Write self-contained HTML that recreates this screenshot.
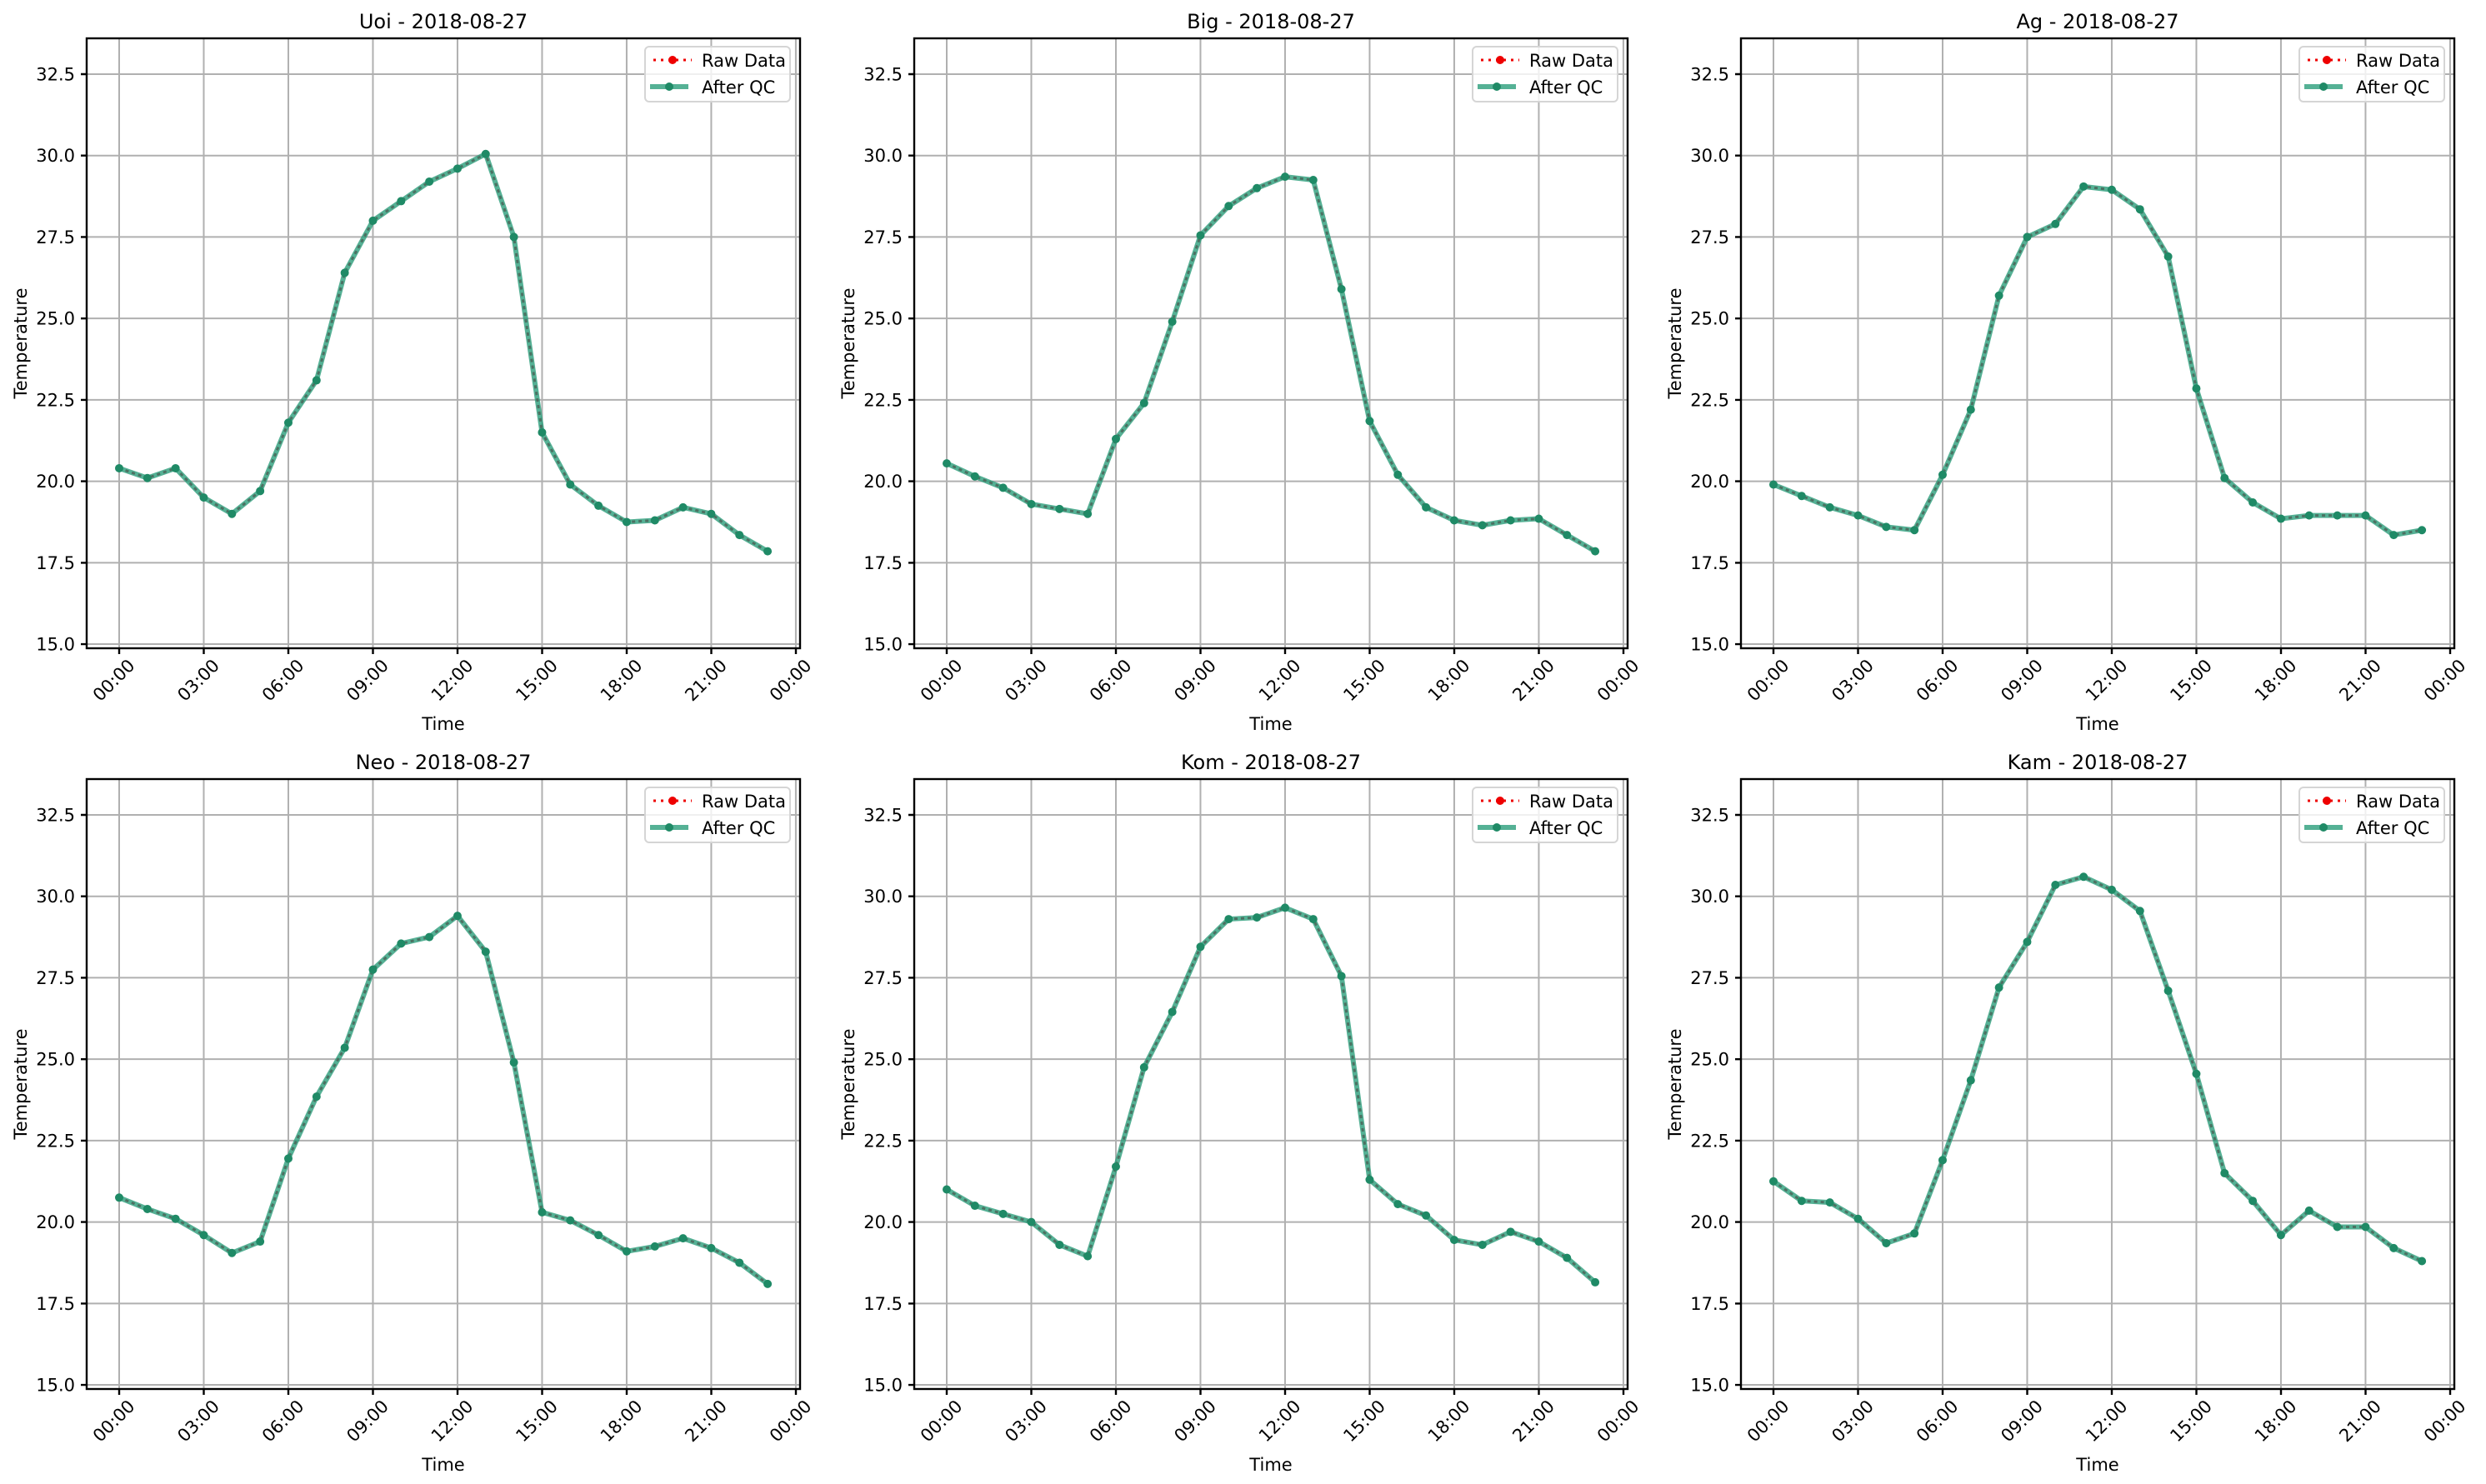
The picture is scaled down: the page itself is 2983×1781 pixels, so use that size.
<!DOCTYPE html>
<html><head><meta charset="utf-8"><style>
html,body{margin:0;padding:0;background:#fff}
svg{display:block}
text{font-family:"DejaVu Sans","Liberation Sans",sans-serif;fill:#000}
.g{fill:none;stroke:#b0b0b0;stroke-width:2}
.ax{fill:none;stroke:#000;stroke-width:2.4}
.qc{fill:none;stroke:#2a9d7a;stroke-opacity:0.8;stroke-width:6;stroke-linejoin:round}
.raw{fill:none;stroke:#4a6a5c;stroke-opacity:0.9;stroke-width:3;stroke-dasharray:4 4}
.mk{fill:none;stroke:#1f8a66;stroke-width:10;stroke-linecap:round}
.yt{font-size:21px;text-anchor:end}
.xt{font-size:21px;text-anchor:end}
.tl{font-size:24px;text-anchor:middle}
.al{font-size:21px;text-anchor:middle}
.lg{font-size:21px}
</style></head><body>
<svg width="2983" height="1781" viewBox="0 0 2983 1781" xmlns="http://www.w3.org/2000/svg">
<defs><clipPath id="c"><rect x="0" y="0" width="856" height="732"/></clipPath></defs>

<!-- PANEL 1 -->
<g transform="translate(104,46)">
<g clip-path="url(#c)">
<g transform="translate(39,1313.4) scale(33.83,-39.09)">
<path class="g" vector-effect="non-scaling-stroke" d="M0 14V34M3 14V34M6 14V34M9 14V34M12 14V34M15 14V34M18 14V34M21 14V34M24 14V34M-2 15H26M-2 17.5H26M-2 20H26M-2 22.5H26M-2 25H26M-2 27.5H26M-2 30H26M-2 32.5H26"/>
<polyline class="qc" vector-effect="non-scaling-stroke" points="0,20.4 1,20.1 2,20.4 3,19.5 4,19.0 5,19.7 6,21.8 7,23.1 8,26.4 9,28.0 10,28.6 11,29.2 12,29.6 13,30.05 14,27.5 15,21.5 16,19.9 17,19.25 18,18.75 19,18.8 20,19.2 21,19.0 22,18.35 23,17.85"/>
<polyline class="raw" vector-effect="non-scaling-stroke" points="0,20.4 1,20.1 2,20.4 3,19.5 4,19.0 5,19.7 6,21.8 7,23.1 8,26.4 9,28.0 10,28.6 11,29.2 12,29.6 13,30.05 14,27.5 15,21.5 16,19.9 17,19.25 18,18.75 19,18.8 20,19.2 21,19.0 22,18.35 23,17.85"/>
<path class="mk" vector-effect="non-scaling-stroke" d="M0 20.4h0M1 20.1h0M2 20.4h0M3 19.5h0M4 19.0h0M5 19.7h0M6 21.8h0M7 23.1h0M8 26.4h0M9 28.0h0M10 28.6h0M11 29.2h0M12 29.6h0M13 30.05h0M14 27.5h0M15 21.5h0M16 19.9h0M17 19.25h0M18 18.75h0M19 18.8h0M20 19.2h0M21 19.0h0M22 18.35h0M23 17.85h0"/>
</g></g>
<rect class="ax" x="0" y="0" width="856" height="732"/>
<path class="ax" d="M-7 727.1H0M-7 629.4H0M-7 531.6H0M-7 433.9H0M-7 336.2H0M-7 238.4H0M-7 140.7H0M-7 43H0M39 732v7M140.5 732v7M242 732v7M343.5 732v7M445 732v7M546.5 732v7M648 732v7M749.5 732v7M851 732v7"/>
<text class="yt" x="-14" y="734.6">15.0</text><text class="yt" x="-14" y="636.9">17.5</text><text class="yt" x="-14" y="539.1">20.0</text><text class="yt" x="-14" y="441.4">22.5</text><text class="yt" x="-14" y="343.7">25.0</text><text class="yt" x="-14" y="245.9">27.5</text><text class="yt" x="-14" y="148.2">30.0</text><text class="yt" x="-14" y="50.5">32.5</text>
<text class="xt" transform="translate(59,754) rotate(-45)">00:00</text><text class="xt" transform="translate(160.5,754) rotate(-45)">03:00</text><text class="xt" transform="translate(262,754) rotate(-45)">06:00</text><text class="xt" transform="translate(363.5,754) rotate(-45)">09:00</text><text class="xt" transform="translate(465,754) rotate(-45)">12:00</text><text class="xt" transform="translate(566.5,754) rotate(-45)">15:00</text><text class="xt" transform="translate(668,754) rotate(-45)">18:00</text><text class="xt" transform="translate(769.5,754) rotate(-45)">21:00</text><text class="xt" transform="translate(871,754) rotate(-45)">00:00</text>
<text class="al" x="428" y="830">Time</text>
<text class="al" transform="translate(-72,366) rotate(-90)">Temperature</text>
<text class="tl" x="428" y="-12">Uoi - 2018-08-27</text>
<rect x="670" y="10" width="174" height="66" rx="5" fill="#fff" fill-opacity="0.8" stroke="#d5d5d5" stroke-width="2"/>
<path d="M680 26H726" stroke="#e00" stroke-width="3" stroke-dasharray="3 6"/><circle cx="703" cy="26" r="5" fill="#e00"/>
<path d="M676 58H722" stroke="#2a9d7a" stroke-opacity="0.8" stroke-width="6"/><circle cx="699" cy="58" r="5" fill="#1f8a66"/>
<text class="lg" x="738" y="34">Raw Data</text><text class="lg" x="738" y="66">After QC</text>
</g>

<!-- PANEL 2 -->
<g transform="translate(1097,46)">
<g clip-path="url(#c)">
<g transform="translate(39,1313.4) scale(33.83,-39.09)">
<path class="g" vector-effect="non-scaling-stroke" d="M0 14V34M3 14V34M6 14V34M9 14V34M12 14V34M15 14V34M18 14V34M21 14V34M24 14V34M-2 15H26M-2 17.5H26M-2 20H26M-2 22.5H26M-2 25H26M-2 27.5H26M-2 30H26M-2 32.5H26"/>
<polyline class="qc" vector-effect="non-scaling-stroke" points="0,20.55 1,20.15 2,19.8 3,19.3 4,19.15 5,19.0 6,21.3 7,22.4 8,24.9 9,27.55 10,28.45 11,29.0 12,29.35 13,29.25 14,25.9 15,21.85 16,20.2 17,19.2 18,18.8 19,18.65 20,18.8 21,18.85 22,18.35 23,17.85"/>
<polyline class="raw" vector-effect="non-scaling-stroke" points="0,20.55 1,20.15 2,19.8 3,19.3 4,19.15 5,19.0 6,21.3 7,22.4 8,24.9 9,27.55 10,28.45 11,29.0 12,29.35 13,29.25 14,25.9 15,21.85 16,20.2 17,19.2 18,18.8 19,18.65 20,18.8 21,18.85 22,18.35 23,17.85"/>
<path class="mk" vector-effect="non-scaling-stroke" d="M0 20.55h0M1 20.15h0M2 19.8h0M3 19.3h0M4 19.15h0M5 19.0h0M6 21.3h0M7 22.4h0M8 24.9h0M9 27.55h0M10 28.45h0M11 29.0h0M12 29.35h0M13 29.25h0M14 25.9h0M15 21.85h0M16 20.2h0M17 19.2h0M18 18.8h0M19 18.65h0M20 18.8h0M21 18.85h0M22 18.35h0M23 17.85h0"/>
</g></g>
<rect class="ax" x="0" y="0" width="856" height="732"/>
<path class="ax" d="M-7 727.1H0M-7 629.4H0M-7 531.6H0M-7 433.9H0M-7 336.2H0M-7 238.4H0M-7 140.7H0M-7 43H0M39 732v7M140.5 732v7M242 732v7M343.5 732v7M445 732v7M546.5 732v7M648 732v7M749.5 732v7M851 732v7"/>
<text class="yt" x="-14" y="734.6">15.0</text><text class="yt" x="-14" y="636.9">17.5</text><text class="yt" x="-14" y="539.1">20.0</text><text class="yt" x="-14" y="441.4">22.5</text><text class="yt" x="-14" y="343.7">25.0</text><text class="yt" x="-14" y="245.9">27.5</text><text class="yt" x="-14" y="148.2">30.0</text><text class="yt" x="-14" y="50.5">32.5</text>
<text class="xt" transform="translate(59,754) rotate(-45)">00:00</text><text class="xt" transform="translate(160.5,754) rotate(-45)">03:00</text><text class="xt" transform="translate(262,754) rotate(-45)">06:00</text><text class="xt" transform="translate(363.5,754) rotate(-45)">09:00</text><text class="xt" transform="translate(465,754) rotate(-45)">12:00</text><text class="xt" transform="translate(566.5,754) rotate(-45)">15:00</text><text class="xt" transform="translate(668,754) rotate(-45)">18:00</text><text class="xt" transform="translate(769.5,754) rotate(-45)">21:00</text><text class="xt" transform="translate(871,754) rotate(-45)">00:00</text>
<text class="al" x="428" y="830">Time</text>
<text class="al" transform="translate(-72,366) rotate(-90)">Temperature</text>
<text class="tl" x="428" y="-12">Big - 2018-08-27</text>
<rect x="670" y="10" width="174" height="66" rx="5" fill="#fff" fill-opacity="0.8" stroke="#d5d5d5" stroke-width="2"/>
<path d="M680 26H726" stroke="#e00" stroke-width="3" stroke-dasharray="3 6"/><circle cx="703" cy="26" r="5" fill="#e00"/>
<path d="M676 58H722" stroke="#2a9d7a" stroke-opacity="0.8" stroke-width="6"/><circle cx="699" cy="58" r="5" fill="#1f8a66"/>
<text class="lg" x="738" y="34">Raw Data</text><text class="lg" x="738" y="66">After QC</text>
</g>

<!-- PANEL 3 -->
<g transform="translate(2089,46)">
<g clip-path="url(#c)">
<g transform="translate(39,1313.4) scale(33.83,-39.09)">
<path class="g" vector-effect="non-scaling-stroke" d="M0 14V34M3 14V34M6 14V34M9 14V34M12 14V34M15 14V34M18 14V34M21 14V34M24 14V34M-2 15H26M-2 17.5H26M-2 20H26M-2 22.5H26M-2 25H26M-2 27.5H26M-2 30H26M-2 32.5H26"/>
<polyline class="qc" vector-effect="non-scaling-stroke" points="0,19.9 1,19.55 2,19.2 3,18.95 4,18.6 5,18.5 6,20.2 7,22.2 8,25.7 9,27.5 10,27.9 11,29.05 12,28.95 13,28.35 14,26.9 15,22.85 16,20.1 17,19.35 18,18.85 19,18.95 20,18.95 21,18.95 22,18.35 23,18.5"/>
<polyline class="raw" vector-effect="non-scaling-stroke" points="0,19.9 1,19.55 2,19.2 3,18.95 4,18.6 5,18.5 6,20.2 7,22.2 8,25.7 9,27.5 10,27.9 11,29.05 12,28.95 13,28.35 14,26.9 15,22.85 16,20.1 17,19.35 18,18.85 19,18.95 20,18.95 21,18.95 22,18.35 23,18.5"/>
<path class="mk" vector-effect="non-scaling-stroke" d="M0 19.9h0M1 19.55h0M2 19.2h0M3 18.95h0M4 18.6h0M5 18.5h0M6 20.2h0M7 22.2h0M8 25.7h0M9 27.5h0M10 27.9h0M11 29.05h0M12 28.95h0M13 28.35h0M14 26.9h0M15 22.85h0M16 20.1h0M17 19.35h0M18 18.85h0M19 18.95h0M20 18.95h0M21 18.95h0M22 18.35h0M23 18.5h0"/>
</g></g>
<rect class="ax" x="0" y="0" width="856" height="732"/>
<path class="ax" d="M-7 727.1H0M-7 629.4H0M-7 531.6H0M-7 433.9H0M-7 336.2H0M-7 238.4H0M-7 140.7H0M-7 43H0M39 732v7M140.5 732v7M242 732v7M343.5 732v7M445 732v7M546.5 732v7M648 732v7M749.5 732v7M851 732v7"/>
<text class="yt" x="-14" y="734.6">15.0</text><text class="yt" x="-14" y="636.9">17.5</text><text class="yt" x="-14" y="539.1">20.0</text><text class="yt" x="-14" y="441.4">22.5</text><text class="yt" x="-14" y="343.7">25.0</text><text class="yt" x="-14" y="245.9">27.5</text><text class="yt" x="-14" y="148.2">30.0</text><text class="yt" x="-14" y="50.5">32.5</text>
<text class="xt" transform="translate(59,754) rotate(-45)">00:00</text><text class="xt" transform="translate(160.5,754) rotate(-45)">03:00</text><text class="xt" transform="translate(262,754) rotate(-45)">06:00</text><text class="xt" transform="translate(363.5,754) rotate(-45)">09:00</text><text class="xt" transform="translate(465,754) rotate(-45)">12:00</text><text class="xt" transform="translate(566.5,754) rotate(-45)">15:00</text><text class="xt" transform="translate(668,754) rotate(-45)">18:00</text><text class="xt" transform="translate(769.5,754) rotate(-45)">21:00</text><text class="xt" transform="translate(871,754) rotate(-45)">00:00</text>
<text class="al" x="428" y="830">Time</text>
<text class="al" transform="translate(-72,366) rotate(-90)">Temperature</text>
<text class="tl" x="428" y="-12">Ag - 2018-08-27</text>
<rect x="670" y="10" width="174" height="66" rx="5" fill="#fff" fill-opacity="0.8" stroke="#d5d5d5" stroke-width="2"/>
<path d="M680 26H726" stroke="#e00" stroke-width="3" stroke-dasharray="3 6"/><circle cx="703" cy="26" r="5" fill="#e00"/>
<path d="M676 58H722" stroke="#2a9d7a" stroke-opacity="0.8" stroke-width="6"/><circle cx="699" cy="58" r="5" fill="#1f8a66"/>
<text class="lg" x="738" y="34">Raw Data</text><text class="lg" x="738" y="66">After QC</text>
</g>

<!-- PANEL 4 -->
<g transform="translate(104,935)">
<g clip-path="url(#c)">
<g transform="translate(39,1313.4) scale(33.83,-39.09)">
<path class="g" vector-effect="non-scaling-stroke" d="M0 14V34M3 14V34M6 14V34M9 14V34M12 14V34M15 14V34M18 14V34M21 14V34M24 14V34M-2 15H26M-2 17.5H26M-2 20H26M-2 22.5H26M-2 25H26M-2 27.5H26M-2 30H26M-2 32.5H26"/>
<polyline class="qc" vector-effect="non-scaling-stroke" points="0,20.75 1,20.4 2,20.1 3,19.6 4,19.05 5,19.4 6,21.95 7,23.85 8,25.35 9,27.75 10,28.55 11,28.75 12,29.4 13,28.3 14,24.9 15,20.3 16,20.05 17,19.6 18,19.1 19,19.25 20,19.5 21,19.2 22,18.75 23,18.1"/>
<polyline class="raw" vector-effect="non-scaling-stroke" points="0,20.75 1,20.4 2,20.1 3,19.6 4,19.05 5,19.4 6,21.95 7,23.85 8,25.35 9,27.75 10,28.55 11,28.75 12,29.4 13,28.3 14,24.9 15,20.3 16,20.05 17,19.6 18,19.1 19,19.25 20,19.5 21,19.2 22,18.75 23,18.1"/>
<path class="mk" vector-effect="non-scaling-stroke" d="M0 20.75h0M1 20.4h0M2 20.1h0M3 19.6h0M4 19.05h0M5 19.4h0M6 21.95h0M7 23.85h0M8 25.35h0M9 27.75h0M10 28.55h0M11 28.75h0M12 29.4h0M13 28.3h0M14 24.9h0M15 20.3h0M16 20.05h0M17 19.6h0M18 19.1h0M19 19.25h0M20 19.5h0M21 19.2h0M22 18.75h0M23 18.1h0"/>
</g></g>
<rect class="ax" x="0" y="0" width="856" height="732"/>
<path class="ax" d="M-7 727.1H0M-7 629.4H0M-7 531.6H0M-7 433.9H0M-7 336.2H0M-7 238.4H0M-7 140.7H0M-7 43H0M39 732v7M140.5 732v7M242 732v7M343.5 732v7M445 732v7M546.5 732v7M648 732v7M749.5 732v7M851 732v7"/>
<text class="yt" x="-14" y="734.6">15.0</text><text class="yt" x="-14" y="636.9">17.5</text><text class="yt" x="-14" y="539.1">20.0</text><text class="yt" x="-14" y="441.4">22.5</text><text class="yt" x="-14" y="343.7">25.0</text><text class="yt" x="-14" y="245.9">27.5</text><text class="yt" x="-14" y="148.2">30.0</text><text class="yt" x="-14" y="50.5">32.5</text>
<text class="xt" transform="translate(59,754) rotate(-45)">00:00</text><text class="xt" transform="translate(160.5,754) rotate(-45)">03:00</text><text class="xt" transform="translate(262,754) rotate(-45)">06:00</text><text class="xt" transform="translate(363.5,754) rotate(-45)">09:00</text><text class="xt" transform="translate(465,754) rotate(-45)">12:00</text><text class="xt" transform="translate(566.5,754) rotate(-45)">15:00</text><text class="xt" transform="translate(668,754) rotate(-45)">18:00</text><text class="xt" transform="translate(769.5,754) rotate(-45)">21:00</text><text class="xt" transform="translate(871,754) rotate(-45)">00:00</text>
<text class="al" x="428" y="830">Time</text>
<text class="al" transform="translate(-72,366) rotate(-90)">Temperature</text>
<text class="tl" x="428" y="-12">Neo - 2018-08-27</text>
<rect x="670" y="10" width="174" height="66" rx="5" fill="#fff" fill-opacity="0.8" stroke="#d5d5d5" stroke-width="2"/>
<path d="M680 26H726" stroke="#e00" stroke-width="3" stroke-dasharray="3 6"/><circle cx="703" cy="26" r="5" fill="#e00"/>
<path d="M676 58H722" stroke="#2a9d7a" stroke-opacity="0.8" stroke-width="6"/><circle cx="699" cy="58" r="5" fill="#1f8a66"/>
<text class="lg" x="738" y="34">Raw Data</text><text class="lg" x="738" y="66">After QC</text>
</g>

<!-- PANEL 5 -->
<g transform="translate(1097,935)">
<g clip-path="url(#c)">
<g transform="translate(39,1313.4) scale(33.83,-39.09)">
<path class="g" vector-effect="non-scaling-stroke" d="M0 14V34M3 14V34M6 14V34M9 14V34M12 14V34M15 14V34M18 14V34M21 14V34M24 14V34M-2 15H26M-2 17.5H26M-2 20H26M-2 22.5H26M-2 25H26M-2 27.5H26M-2 30H26M-2 32.5H26"/>
<polyline class="qc" vector-effect="non-scaling-stroke" points="0,21.0 1,20.5 2,20.25 3,20.0 4,19.3 5,18.95 6,21.7 7,24.75 8,26.45 9,28.45 10,29.3 11,29.35 12,29.65 13,29.3 14,27.55 15,21.3 16,20.55 17,20.2 18,19.45 19,19.3 20,19.7 21,19.4 22,18.9 23,18.15"/>
<polyline class="raw" vector-effect="non-scaling-stroke" points="0,21.0 1,20.5 2,20.25 3,20.0 4,19.3 5,18.95 6,21.7 7,24.75 8,26.45 9,28.45 10,29.3 11,29.35 12,29.65 13,29.3 14,27.55 15,21.3 16,20.55 17,20.2 18,19.45 19,19.3 20,19.7 21,19.4 22,18.9 23,18.15"/>
<path class="mk" vector-effect="non-scaling-stroke" d="M0 21.0h0M1 20.5h0M2 20.25h0M3 20.0h0M4 19.3h0M5 18.95h0M6 21.7h0M7 24.75h0M8 26.45h0M9 28.45h0M10 29.3h0M11 29.35h0M12 29.65h0M13 29.3h0M14 27.55h0M15 21.3h0M16 20.55h0M17 20.2h0M18 19.45h0M19 19.3h0M20 19.7h0M21 19.4h0M22 18.9h0M23 18.15h0"/>
</g></g>
<rect class="ax" x="0" y="0" width="856" height="732"/>
<path class="ax" d="M-7 727.1H0M-7 629.4H0M-7 531.6H0M-7 433.9H0M-7 336.2H0M-7 238.4H0M-7 140.7H0M-7 43H0M39 732v7M140.5 732v7M242 732v7M343.5 732v7M445 732v7M546.5 732v7M648 732v7M749.5 732v7M851 732v7"/>
<text class="yt" x="-14" y="734.6">15.0</text><text class="yt" x="-14" y="636.9">17.5</text><text class="yt" x="-14" y="539.1">20.0</text><text class="yt" x="-14" y="441.4">22.5</text><text class="yt" x="-14" y="343.7">25.0</text><text class="yt" x="-14" y="245.9">27.5</text><text class="yt" x="-14" y="148.2">30.0</text><text class="yt" x="-14" y="50.5">32.5</text>
<text class="xt" transform="translate(59,754) rotate(-45)">00:00</text><text class="xt" transform="translate(160.5,754) rotate(-45)">03:00</text><text class="xt" transform="translate(262,754) rotate(-45)">06:00</text><text class="xt" transform="translate(363.5,754) rotate(-45)">09:00</text><text class="xt" transform="translate(465,754) rotate(-45)">12:00</text><text class="xt" transform="translate(566.5,754) rotate(-45)">15:00</text><text class="xt" transform="translate(668,754) rotate(-45)">18:00</text><text class="xt" transform="translate(769.5,754) rotate(-45)">21:00</text><text class="xt" transform="translate(871,754) rotate(-45)">00:00</text>
<text class="al" x="428" y="830">Time</text>
<text class="al" transform="translate(-72,366) rotate(-90)">Temperature</text>
<text class="tl" x="428" y="-12">Kom - 2018-08-27</text>
<rect x="670" y="10" width="174" height="66" rx="5" fill="#fff" fill-opacity="0.8" stroke="#d5d5d5" stroke-width="2"/>
<path d="M680 26H726" stroke="#e00" stroke-width="3" stroke-dasharray="3 6"/><circle cx="703" cy="26" r="5" fill="#e00"/>
<path d="M676 58H722" stroke="#2a9d7a" stroke-opacity="0.8" stroke-width="6"/><circle cx="699" cy="58" r="5" fill="#1f8a66"/>
<text class="lg" x="738" y="34">Raw Data</text><text class="lg" x="738" y="66">After QC</text>
</g>

<!-- PANEL 6 -->
<g transform="translate(2089,935)">
<g clip-path="url(#c)">
<g transform="translate(39,1313.4) scale(33.83,-39.09)">
<path class="g" vector-effect="non-scaling-stroke" d="M0 14V34M3 14V34M6 14V34M9 14V34M12 14V34M15 14V34M18 14V34M21 14V34M24 14V34M-2 15H26M-2 17.5H26M-2 20H26M-2 22.5H26M-2 25H26M-2 27.5H26M-2 30H26M-2 32.5H26"/>
<polyline class="qc" vector-effect="non-scaling-stroke" points="0,21.25 1,20.65 2,20.6 3,20.1 4,19.35 5,19.65 6,21.9 7,24.35 8,27.2 9,28.6 10,30.35 11,30.6 12,30.2 13,29.55 14,27.1 15,24.55 16,21.5 17,20.65 18,19.6 19,20.35 20,19.85 21,19.85 22,19.2 23,18.8"/>
<polyline class="raw" vector-effect="non-scaling-stroke" points="0,21.25 1,20.65 2,20.6 3,20.1 4,19.35 5,19.65 6,21.9 7,24.35 8,27.2 9,28.6 10,30.35 11,30.6 12,30.2 13,29.55 14,27.1 15,24.55 16,21.5 17,20.65 18,19.6 19,20.35 20,19.85 21,19.85 22,19.2 23,18.8"/>
<path class="mk" vector-effect="non-scaling-stroke" d="M0 21.25h0M1 20.65h0M2 20.6h0M3 20.1h0M4 19.35h0M5 19.65h0M6 21.9h0M7 24.35h0M8 27.2h0M9 28.6h0M10 30.35h0M11 30.6h0M12 30.2h0M13 29.55h0M14 27.1h0M15 24.55h0M16 21.5h0M17 20.65h0M18 19.6h0M19 20.35h0M20 19.85h0M21 19.85h0M22 19.2h0M23 18.8h0"/>
</g></g>
<rect class="ax" x="0" y="0" width="856" height="732"/>
<path class="ax" d="M-7 727.1H0M-7 629.4H0M-7 531.6H0M-7 433.9H0M-7 336.2H0M-7 238.4H0M-7 140.7H0M-7 43H0M39 732v7M140.5 732v7M242 732v7M343.5 732v7M445 732v7M546.5 732v7M648 732v7M749.5 732v7M851 732v7"/>
<text class="yt" x="-14" y="734.6">15.0</text><text class="yt" x="-14" y="636.9">17.5</text><text class="yt" x="-14" y="539.1">20.0</text><text class="yt" x="-14" y="441.4">22.5</text><text class="yt" x="-14" y="343.7">25.0</text><text class="yt" x="-14" y="245.9">27.5</text><text class="yt" x="-14" y="148.2">30.0</text><text class="yt" x="-14" y="50.5">32.5</text>
<text class="xt" transform="translate(59,754) rotate(-45)">00:00</text><text class="xt" transform="translate(160.5,754) rotate(-45)">03:00</text><text class="xt" transform="translate(262,754) rotate(-45)">06:00</text><text class="xt" transform="translate(363.5,754) rotate(-45)">09:00</text><text class="xt" transform="translate(465,754) rotate(-45)">12:00</text><text class="xt" transform="translate(566.5,754) rotate(-45)">15:00</text><text class="xt" transform="translate(668,754) rotate(-45)">18:00</text><text class="xt" transform="translate(769.5,754) rotate(-45)">21:00</text><text class="xt" transform="translate(871,754) rotate(-45)">00:00</text>
<text class="al" x="428" y="830">Time</text>
<text class="al" transform="translate(-72,366) rotate(-90)">Temperature</text>
<text class="tl" x="428" y="-12">Kam - 2018-08-27</text>
<rect x="670" y="10" width="174" height="66" rx="5" fill="#fff" fill-opacity="0.8" stroke="#d5d5d5" stroke-width="2"/>
<path d="M680 26H726" stroke="#e00" stroke-width="3" stroke-dasharray="3 6"/><circle cx="703" cy="26" r="5" fill="#e00"/>
<path d="M676 58H722" stroke="#2a9d7a" stroke-opacity="0.8" stroke-width="6"/><circle cx="699" cy="58" r="5" fill="#1f8a66"/>
<text class="lg" x="738" y="34">Raw Data</text><text class="lg" x="738" y="66">After QC</text>
</g>
</svg>
</body></html>
